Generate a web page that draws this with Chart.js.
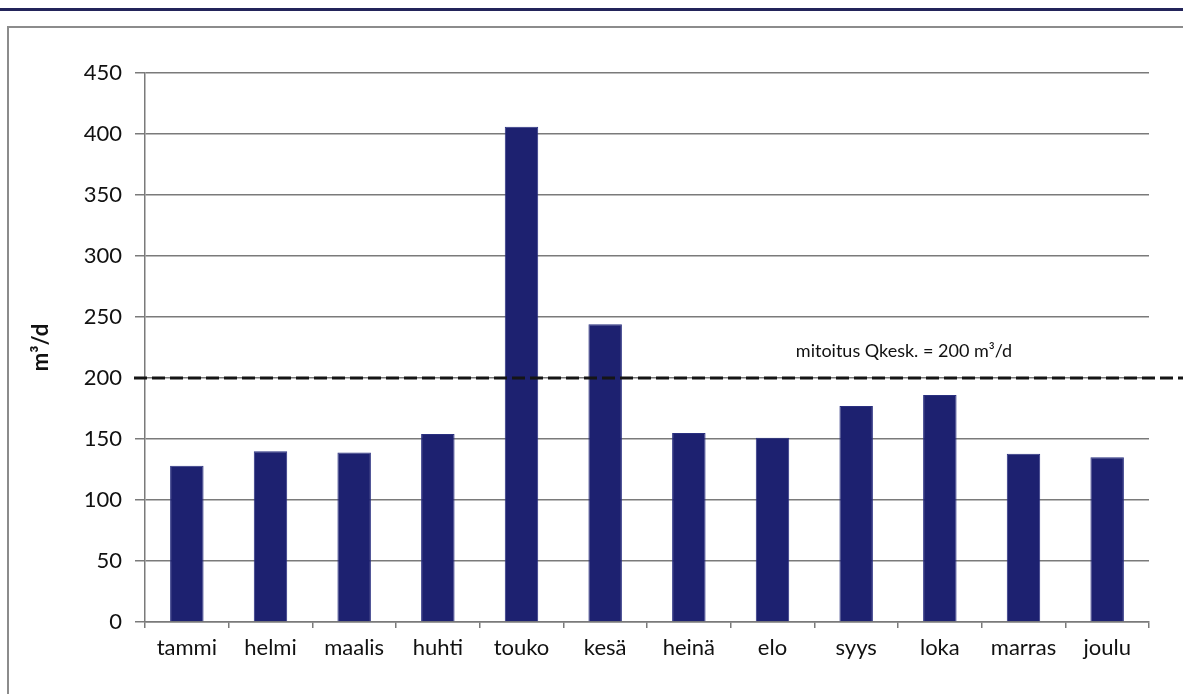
<!DOCTYPE html>
<html>
<head>
    <script src="https://cdn.jsdelivr.net/npm/chart.js@4.4.0/dist/chart.umd.min.js"></script>
    <style>
        body {
            margin: 0;
            background: white;
            font-family: Lato, "Open Sans", sans-serif;
        }
        .topline {
            position: absolute;
            left: 0; top: 8px;
            width: 1183px; height: 3px;
            background: #23245a;
        }
        .frame {
            position: absolute;
            left: 7px; top: 26px;
            width: 1200px; height: 700px;
            border-left: 2px solid #8c8c8c;
            border-top: 2px solid #8c8c8c;
        }
        .chart-container {
            position: absolute;
            left: 0; top: 0;
            width: 1183px; height: 694px;
        }
    </style>
</head>
<body>
    <div class="topline"></div>
    <div class="frame"></div>
    <div class="chart-container">
        <canvas id="flowChart"></canvas>
    </div>

    <script>
        const months = ['tammi', 'helmi', 'maalis', 'huhti', 'touko', 'kesä', 'heinä', 'elo', 'syys', 'loka', 'marras', 'joulu'];
        const flow = [128, 140, 139, 154, 406, 244, 155, 151, 177, 186, 138, 135];
        const designFlow = 200;
        const designLabel = 'mitoitus Qkesk. = 200 m³/d';

        // dashed design line + its label, placed via the y scale
        const designLine = {
            id: 'designLine',
            afterDatasetsDraw(chart) {
                const { ctx, scales: { x, y }, chartArea } = chart;
                const yPix = y.getPixelForValue(designFlow);
                ctx.save();
                ctx.strokeStyle = '#151515';
                ctx.lineWidth = 3;
                ctx.setLineDash([13, 5]);
                ctx.beginPath();
                ctx.moveTo(chartArea.left - 11, yPix);
                ctx.lineTo(chart.width, yPix);
                ctx.stroke();
                ctx.setLineDash([]);
                ctx.fillStyle = '#111';
                ctx.font = '18px Lato';
                ctx.textAlign = 'center';
                ctx.textBaseline = 'middle';
                const xMid = (x.getPixelForValue(8) + x.getPixelForValue(9)) / 2 + 6;
                ctx.fillText(designLabel, xMid, yPix - 27);
                ctx.restore();
            }
        };

        const ctx = document.getElementById('flowChart').getContext('2d');
        new Chart(ctx, {
            type: 'bar',
            data: {
                labels: months,
                datasets: [{
                    data: flow,
                    backgroundColor: '#1d2170',
                    borderColor: '#2a3080',
                    borderWidth: 1,
                    categoryPercentage: 1,
                    barPercentage: 0.4
                }]
            },
            options: {
                responsive: true,
                maintainAspectRatio: false,
                animation: false,
                layout: {
                    padding: { left: 0, right: 34, top: 73, bottom: 0 }
                },
                plugins: {
                    legend: { display: false },
                    tooltip: { enabled: false }
                },
                scales: {
                    x: {
                        afterFit: s => { s.height = 72; },
                        grid: {
                            offset: true,
                            drawOnChartArea: false,
                            color: '#7a7a7a',
                            lineWidth: 1.5,
                            tickLength: 6
                        },
                        border: { color: '#7a7a7a', width: 1.5 },
                        ticks: {
                            color: '#111',
                            padding: 7,
                            font: { family: 'Lato', size: 22 }
                        }
                    },
                    y: {
                        min: 0,
                        max: 450,
                        afterFit: s => { s.width = 145; },
                        ticks: {
                            stepSize: 50,
                            color: '#111',
                            padding: 13,
                            font: { family: 'Lato', size: 22 }
                        },
                        grid: {
                            color: '#7a7a7a',
                            lineWidth: 1.5,
                            tickLength: 10
                        },
                        border: { color: '#7a7a7a', width: 1.5 },
                        title: {
                            display: true,
                            text: 'm³/d',
                            color: '#111',
                            padding: { top: 28, bottom: 0 },
                            font: { family: 'Lato', size: 22, weight: 'bold' }
                        }
                    }
                }
            },
            plugins: [designLine]
        });
    </script>
</body>
</html>
